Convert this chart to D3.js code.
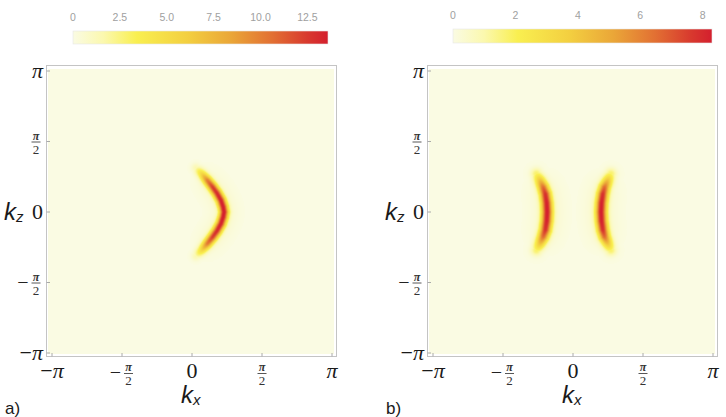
<!DOCTYPE html>
<html><head><meta charset="utf-8">
<script src="https://cdn.jsdelivr.net/npm/d3@7"></script>
<style>body{margin:0;background:#fff}svg{display:block}</style>
</head><body>
<script>
// ---------------- data ----------------
const PI = Math.PI;
const axisTickValues = [-PI, -PI/2, 0, PI/2, PI];
const axisTickLabels = ["−π", "−π/2", "0", "π/2", "π"];

const colorbarA_ticks = [0, 2.5, 5.0, 7.5, 10.0, 12.5];
const colorbarA_labels = ["0", "2.5", "5.0", "7.5", "10.0", "12.5"];
const colorbarA_max = 13.6;
const colorbarB_ticks = [0, 2, 4, 6, 8];
const colorbarB_labels = ["0", "2", "4", "6", "8"];
const colorbarB_max = 8.3;

// panel a: one crescent arc (kx, kz, intensity)
const arcA_kz  = [0.98, 0.85, 0.71, 0.56, 0.42, 0.26, 0.11, 0.0, -0.11, -0.26, -0.42, -0.56, -0.71, -0.85, -0.98];
const arcA_kx  = [0.09, 0.22, 0.34, 0.46, 0.56, 0.65, 0.70, 0.72, 0.70, 0.65, 0.56, 0.46, 0.34, 0.22, 0.09];
const arcA_val = [1.5, 5.5, 10.0, 12.3, 13.0, 13.4, 13.6, 13.6, 13.6, 13.4, 13.0, 12.3, 10.0, 5.5, 1.5];

// panel b: two arcs
const arcB1_kz  = [0.85, 0.70, 0.55, 0.40, 0.20, 0.0, -0.20, -0.40, -0.55, -0.70, -0.85];
const arcB1_kx  = [-0.82, -0.74, -0.67, -0.62, -0.59, -0.58, -0.59, -0.62, -0.67, -0.74, -0.82];
const arcB1_val = [1.8, 4.3, 6.6, 7.8, 8.2, 8.3, 8.2, 7.8, 6.6, 4.3, 1.8];
const arcB2_kz  = [0.85, 0.70, 0.55, 0.40, 0.20, 0.0, -0.20, -0.40, -0.55, -0.70, -0.85];
const arcB2_kx  = [0.85, 0.78, 0.71, 0.67, 0.64, 0.63, 0.64, 0.67, 0.71, 0.78, 0.85];
const arcB2_val = [1.8, 4.3, 6.6, 7.8, 8.2, 8.3, 8.2, 7.8, 6.6, 4.3, 1.8];

// ---------------- style ----------------
const W = 726, H = 417;
const gradStops = [0, 0.12, 0.25, 0.45, 0.62, 0.78, 0.92, 1];
const gradColors = ["#fafbe3", "#fbf8ae", "#f9ef50", "#f3cf40", "#eaa638", "#e27033", "#d8392e", "#d41f2e"];
const frameColor = "#c4c4c4";
const serif = "'Liberation Serif','DejaVu Serif',serif";
const sans = "'Liberation Sans','DejaVu Sans',sans-serif";

const svg = d3.select("body").append("svg").attr("width", W).attr("height", H);
svg.append("rect").attr("width", W).attr("height", H).attr("fill", "#fff");

const defs = svg.append("defs");

function colorbar(id, x0, x1, y0, h, max, ticks, labels) {
  const lg = defs.append("linearGradient").attr("id", id).attr("x1", "0%").attr("x2", "100%");
  gradStops.forEach((s, i) => lg.append("stop").attr("offset", (s * 100) + "%").attr("stop-color", gradColors[i]));
  const sc = d3.scaleLinear().domain([0, max]).range([x0, x1]);
  svg.append("rect").attr("x", x0).attr("y", y0).attr("width", x1 - x0).attr("height", h)
    .attr("fill", `url(#${id})`).attr("stroke", "#e6e6e6").attr("stroke-width", 0.6);
  svg.append("g").selectAll("text").data(ticks).join("text")
    .attr("x", d => sc(d)).attr("y", y0 - 10)
    .attr("text-anchor", "middle").attr("font-family", sans).attr("font-size", 10.5)
    .attr("fill", "#a0a0a0").text((d, i) => labels[i]);
}

function fraction(g, cx, cy, neg, anchor) {
  // cy = fraction bar y
  const fw = 10, mw = neg ? 13 : 0;
  const w = fw + mw;
  const left = anchor === "middle" ? cx - w / 2 : cx - w;
  if (neg) {
    g.append("text").attr("x", left + 5).attr("y", cy + 6).attr("text-anchor", "middle")
      .attr("font-family", serif).attr("font-size", 20).attr("fill", "#222").text("−");
  }
  const fx = left + mw + fw / 2;
  g.append("text").attr("x", fx).attr("y", cy - 2).attr("text-anchor", "middle")
    .attr("font-family", serif).attr("font-style", "italic").attr("font-weight", "bold")
    .attr("font-size", 12).attr("fill", "#333").text("π");
  g.append("line").attr("x1", fx - 4.5).attr("x2", fx + 4.5).attr("y1", cy + 0.5).attr("y2", cy + 0.5)
    .attr("stroke", "#444").attr("stroke-width", 0.9);
  g.append("text").attr("x", fx).attr("y", cy + 12).attr("text-anchor", "middle")
    .attr("font-family", serif).attr("font-size", 13).attr("fill", "#333").text("2");
}

function plainLabel(g, x, y, lab, anchor) {
  const t = g.append("text").attr("x", x).attr("y", y).attr("text-anchor", anchor)
    .attr("font-family", serif).attr("font-size", 22).attr("fill", "#1a1a1a");
  if (lab === "0") t.text("0");
  else if (lab === "π") t.append("tspan").attr("font-style", "italic").text("π");
  else { t.append("tspan").text("−"); t.append("tspan").attr("font-style", "italic").text("π"); }
}

function panel(opts) {
  const { fl, fr, ft, fb, xr, yr, arcs, max, sigma, tag } = opts;
  const x = d3.scaleLinear().domain([-PI, PI]).range(xr);
  const y = d3.scaleLinear().domain([-PI, PI]).range(yr);
  const color = d3.scaleLinear().domain(gradStops.map(s => s * max)).range(gradColors).clamp(true);
  const g = svg.append("g");
  // background density (value 0)
  g.append("rect").attr("x", fl + 2).attr("y", ft + 4).attr("width", fr - fl - 4).attr("height", fb - ft - 6)
    .attr("fill", color(0));
  // density cells from arcs
  const arcPx = arcs.map(a => a.kx.map((v, i) => ({ px: x(v), py: y(a.kz[i]), v: a.val[i] })));
  let minX = Infinity, maxX = -Infinity, minY = Infinity, maxY = -Infinity;
  arcPx.flat().forEach(p => { minX = Math.min(minX, p.px); maxX = Math.max(maxX, p.px); minY = Math.min(minY, p.py); maxY = Math.max(maxY, p.py); });
  const broad = sigma * 3.2;
  const pad = broad * 3;
  const cells = [];
  for (let py = Math.floor(minY - pad); py <= maxY + pad; py++) {
    for (let px = Math.floor(minX - pad); px <= maxX + pad; px++) {
      const cx = px + 0.5, cy = py + 0.5;
      let best = 0;
      for (const pts of arcPx) {
        let bd = Infinity, bv = 0;
        for (let i = 0; i < pts.length - 1; i++) {
          const a = pts[i], b = pts[i + 1];
          const dx = b.px - a.px, dy = b.py - a.py;
          const L2 = dx * dx + dy * dy;
          let t = ((cx - a.px) * dx + (cy - a.py) * dy) / L2;
          t = Math.max(0, Math.min(1, t));
          const qx = a.px + t * dx, qy = a.py + t * dy;
          const d2 = (cx - qx) ** 2 + (cy - qy) ** 2;
          if (d2 < bd) { bd = d2; bv = a.v + t * (b.v - a.v); }
        }
        const val = bv * (0.95 * Math.exp(-bd / (2 * sigma * sigma)) + 0.05 * Math.exp(-bd / (2 * broad * broad)));
        if (val > best) best = val;
      }
      if (best > max * 0.006) cells.push({ px, py, v: best });
    }
  }
  g.append("g").attr("shape-rendering", "crispEdges").selectAll("rect").data(cells).join("rect")
    .attr("x", d => d.px).attr("y", d => d.py).attr("width", 1).attr("height", 1)
    .attr("fill", d => color(d.v));
  // frame
  g.append("rect").attr("x", fl + 0.5).attr("y", ft + 0.5).attr("width", fr - fl).attr("height", fb - ft)
    .attr("fill", "none").attr("stroke", frameColor).attr("stroke-width", 1);
  // ticks
  axisTickValues.forEach(v => {
    g.append("line").attr("x1", fl + 0.5).attr("x2", fl + 4).attr("y1", y(v)).attr("y2", y(v)).attr("stroke", "#aaa");
    g.append("line").attr("y1", fb + 0.5).attr("y2", fb - 3).attr("x1", x(v)).attr("x2", x(v)).attr("stroke", "#aaa");
  });
  // y labels
  axisTickLabels.forEach((lab, i) => {
    const v = axisTickValues[i];
    if (lab.includes("/")) fraction(g, fl - 5, y(v), lab.startsWith("−"), "end");
    else plainLabel(g, fl - 3, y(v) + 7, lab, "end");
  });
  // x labels
  axisTickLabels.forEach((lab, i) => {
    const v = axisTickValues[i];
    if (lab.includes("/")) fraction(g, x(v), fb + 17, lab.startsWith("−"), "middle");
    else plainLabel(g, x(v), fb + 22, lab, "middle");
  });
  // axis titles
  const kz = g.append("text").attr("x", fl - 42).attr("y", y(0) + 8).attr("font-family", sans)
    .attr("font-size", 24).attr("fill", "#1a1a1a");
  kz.append("tspan").attr("font-style", "italic").text("k");
  kz.append("tspan").attr("font-size", 15).attr("dy", 2).attr("font-style", "italic").text("z");
  const kx = g.append("text").attr("x", x(0) - 11).attr("y", fb + 47).attr("font-family", sans)
    .attr("font-size", 24).attr("fill", "#1a1a1a");
  kx.append("tspan").attr("font-style", "italic").text("k");
  kx.append("tspan").attr("font-size", 15).attr("dy", 2).attr("font-style", "italic").text("x");
  // panel tag
  g.append("text").attr("x", fl - 41).attr("y", 414).attr("font-family", sans).attr("font-size", 17)
    .attr("fill", "#1a1a1a").text(tag);
}

colorbar("gradA", 73, 328, 31, 13, colorbarA_max, colorbarA_ticks, colorbarA_labels);
colorbar("gradB", 453, 712, 29, 14, colorbarB_max, colorbarB_ticks, colorbarB_labels);

panel({
  fl: 46, fr: 336, ft: 65, fb: 356, xr: [52, 332], yr: [353, 71],
  arcs: [{ kx: arcA_kx, kz: arcA_kz, val: arcA_val }],
  max: colorbarA_max, sigma: 3.2, tag: "a)"
});
panel({
  fl: 427, fr: 717, ft: 65, fb: 356, xr: [433, 713], yr: [353, 71],
  arcs: [{ kx: arcB1_kx, kz: arcB1_kz, val: arcB1_val }, { kx: arcB2_kx, kz: arcB2_kz, val: arcB2_val }],
  max: colorbarB_max, sigma: 3.8, tag: "b)"
});
</script>
</body></html>
